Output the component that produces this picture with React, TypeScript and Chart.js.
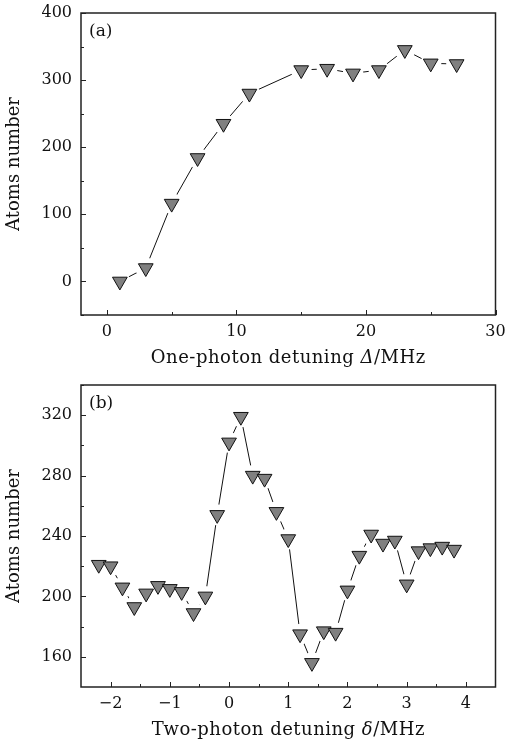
import React, { useEffect, useRef } from "react";
import { Chart, registerables } from "chart.js";

Chart.register(...registerables);

// ---------- Data ----------
// Panel (a)
const oneDetuning = [1, 3, 5, 7, 9, 11, 15, 17, 19, 21, 23, 25, 27];
const oneAtoms = [0, 20, 116, 184, 235, 280, 315, 317, 310, 315, 345, 325, 324];
const oneXTicks = [0, 10, 20, 30];
const oneXMinor = [5, 15, 25];
const oneYTicks = [0, 100, 200, 300, 400];
const oneYMinor = [-50, 50, 150, 250, 350];

// Panel (b)
const twoDetuning = [
  -2.2, -2.0, -1.8, -1.6, -1.4, -1.2, -1.0, -0.8, -0.6, -0.4, -0.2, 0.0, 0.2, 0.4, 0.6, 0.8,
  1.0, 1.2, 1.4, 1.6, 1.8, 2.0, 2.2, 2.4, 2.6, 2.8, 3.0, 3.2, 3.4, 3.6, 3.8,
];
const twoAtoms = [
  221, 220, 206, 193, 202, 207, 205, 203, 189, 200, 254, 302, 319, 280, 278, 256,
  238, 175, 156, 177, 176, 204, 227, 241, 235, 237, 208, 230, 232, 233, 231,
];
const twoXTicks = [-2, -1, 0, 1, 2, 3, 4];
const twoXMinor = [-1.5, -0.5, 0.5, 1.5, 2.5, 3.5];
const twoYTicks = [160, 200, 240, 280, 320];
const twoYMinor = [180, 220, 260, 300, 340];

const yTitle = "Atoms number";
const oneXTitle = [
  { t: "One-photon detuning ", i: false },
  { t: "Δ", i: true },
  { t: "/MHz", i: false },
];
const twoXTitle = [
  { t: "Two-photon detuning ", i: false },
  { t: "δ", i: true },
  { t: "/MHz", i: false },
];

const FONT_FAMILY = "'DejaVu Serif', serif";
const FONT_SIZE = 16;
const TITLE_SIZE = 18;
const TEXT = "#111";

type Part = { t: string; i: boolean };

function decoPlugin(label: string, xMinor: number[], yMinor: number[], xTitle: Part[]) {
  return {
    id: "deco",
    afterDraw(chart: any) {
      const { ctx, chartArea: a, scales } = chart;
      const xs = scales.x;
      const ys = scales.y;
      ctx.save();
      // ticks (inward)
      ctx.strokeStyle = "#222";
      ctx.lineWidth = 1;
      ctx.beginPath();
      xs.ticks.forEach((tk: any) => {
        const px = Math.round(xs.getPixelForValue(tk.value)) + 0.5;
        ctx.moveTo(px, a.bottom);
        ctx.lineTo(px, a.bottom - 5);
      });
      xMinor.forEach((v) => {
        const px = Math.round(xs.getPixelForValue(v)) + 0.5;
        ctx.moveTo(px, a.bottom);
        ctx.lineTo(px, a.bottom - 3);
      });
      ys.ticks.forEach((tk: any) => {
        const py = Math.round(ys.getPixelForValue(tk.value)) + 0.5;
        ctx.moveTo(a.left, py);
        ctx.lineTo(a.left + 5, py);
      });
      yMinor.forEach((v) => {
        const py = Math.round(ys.getPixelForValue(v)) + 0.5;
        ctx.moveTo(a.left, py);
        ctx.lineTo(a.left + 3, py);
      });
      ctx.stroke();
      // frame
      ctx.lineWidth = 1.5;
      ctx.strokeStyle = "#222";
      ctx.strokeRect(a.left, a.top, a.right - a.left, a.bottom - a.top);
      // panel label
      ctx.fillStyle = TEXT;
      ctx.font = `17px ${FONT_FAMILY}`;
      ctx.textAlign = "left";
      ctx.textBaseline = "middle";
      ctx.fillText(label, a.left + 8, a.top + 19);
      // x title with italic symbol
      try {
        (ctx as any).letterSpacing = "0.5px";
      } catch (e) {}
      const fontOf = (p: Part) => `${p.i ? "italic " : ""}${TITLE_SIZE}px ${FONT_FAMILY}`;
      let total = 0;
      const widths = xTitle.map((p) => {
        ctx.font = fontOf(p);
        const w = ctx.measureText(p.t).width;
        total += w;
        return w;
      });
      let x = (a.left + a.right) / 2 - total / 2;
      const y = chart.height - 14;
      xTitle.forEach((p, k) => {
        ctx.font = fontOf(p);
        ctx.fillText(p.t, x, y);
        x += widths[k];
      });
      ctx.restore();
    },
  };
}

function makeConfig(
  xs: number[],
  ys: number[],
  xMin: number,
  xMax: number,
  yMin: number,
  yMax: number,
  xTicks: number[],
  yTicks: number[],
  xMinor: number[],
  yMinor: number[],
  label: string,
  xTitle: Part[]
): any {
  const pts = xs.map((x, k) => ({ x, y: ys[k] }));
  const font = { family: FONT_FAMILY, size: FONT_SIZE };
  const fmt = (v: any) => String(v).replace("-", "\u2212");
  return {
    type: "line",
    data: {
      datasets: [
        {
          data: pts,
          order: 0,
          showLine: false,
          pointStyle: "triangle",
          pointRotation: 180,
          pointRadius: 8.5,
          pointHoverRadius: 8.5,
          pointBackgroundColor: "#808080",
          pointBorderColor: "#111",
          pointBorderWidth: 1,
        },
        {
          data: pts,
          order: 1,
          showLine: false,
          pointStyle: "circle",
          pointRadius: 10.5,
          pointHoverRadius: 10.5,
          pointBackgroundColor: "#ffffff",
          pointBorderColor: "#ffffff",
          pointBorderWidth: 0,
        },
        {
          data: pts,
          order: 2,
          showLine: true,
          borderColor: "#111",
          borderWidth: 1,
          pointRadius: 0,
          pointHoverRadius: 0,
          tension: 0,
          fill: false,
        },
      ],
    },
    options: {
      animation: false,
      responsive: false,
      maintainAspectRatio: false,
      events: [],
      layout: { padding: { left: 0, right: 8, top: 13, bottom: 0 } },
      plugins: {
        legend: { display: false },
        tooltip: { enabled: false },
        title: { display: false },
      },
      scales: {
        x: {
          type: "linear",
          min: xMin,
          max: xMax,
          afterBuildTicks: (s: any) => {
            s.ticks = xTicks.map((v) => ({ value: v }));
          },
          afterFit: (s: any) => {
            s.height = 57;
            s.paddingLeft = 0;
            s.paddingRight = 0;
          },
          grid: { display: false, drawTicks: false },
          border: { display: false },
          ticks: { padding: 7, color: TEXT, font, maxRotation: 0, autoSkip: false, callback: fmt },
          title: { display: false },
        },
        y: {
          type: "linear",
          min: yMin,
          max: yMax,
          afterBuildTicks: (s: any) => {
            s.ticks = yTicks.map((v) => ({ value: v }));
          },
          afterFit: (s: any) => {
            s.width = 81;
            s.paddingTop = 0;
            s.paddingBottom = 0;
          },
          grid: { display: false, drawTicks: false },
          border: { display: false },
          ticks: { padding: 9, color: TEXT, font, autoSkip: false, callback: fmt },
          title: {
            display: true,
            text: yTitle,
            color: TEXT,
            font: { family: FONT_FAMILY, size: TITLE_SIZE },
            padding: { top: 4, bottom: 0 },
          },
        },
      },
    },
    plugins: [decoPlugin(label, xMinor, yMinor, xTitle)],
  };
}

function Panel({ build }: { build: () => any }) {
  const ref = useRef<HTMLCanvasElement | null>(null);
  useEffect(() => {
    if (!ref.current) return;
    const chart = new Chart(ref.current, build());
    return () => chart.destroy();
  }, []);
  return (
    <canvas
      ref={ref}
      width={506}
      height={372}
      style={{ display: "block", width: 506, height: 372 }}
    />
  );
}

export default function App() {
  return (
    <div style={{ position: "absolute", left: 0, top: 0, width: 506, height: 744, background: "#fff" }}>
      <Panel
        build={() =>
          makeConfig(oneDetuning, oneAtoms, -2, 30, -50, 400, oneXTicks, oneYTicks, oneXMinor, oneYMinor, "(a)", oneXTitle)
        }
      />
      <Panel
        build={() =>
          makeConfig(twoDetuning, twoAtoms, -2.5, 4.5, 140, 340, twoXTicks, twoYTicks, twoXMinor, twoYMinor, "(b)", twoXTitle)
        }
      />
    </div>
  );
}
